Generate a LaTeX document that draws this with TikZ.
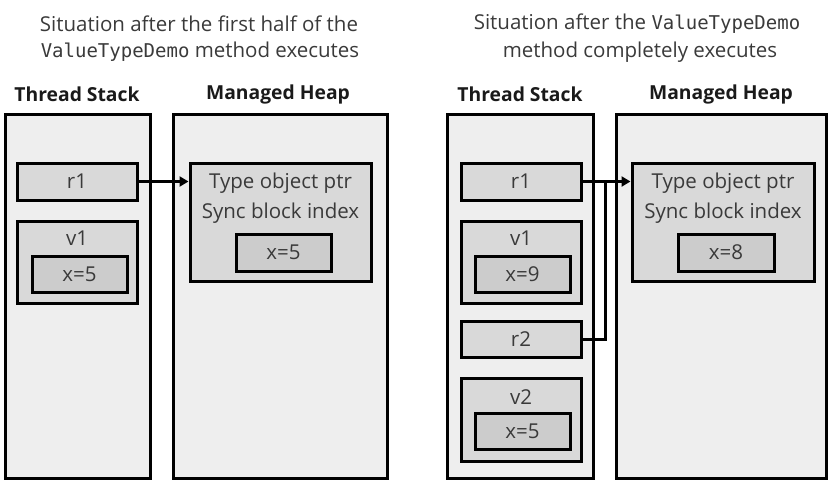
\documentclass[tikz,border=0pt]{standalone}
\usepackage{fontspec}
\setmainfont{Open Sans}
\setmonofont{DejaVu Sans Mono}
\usetikzlibrary{arrows.meta}
\definecolor{outerc}{HTML}{EEEEEE}
\definecolor{midc}{HTML}{D9D9D9}
\definecolor{innc}{HTML}{CCCCCC}
\definecolor{txtc}{HTML}{3A3A3A}
\definecolor{headc}{HTML}{1A1A1A}
\tikzset{
  base/.style={draw=black, line width=3pt, rectangle, inner sep=0pt},
  outerbox/.style={base, fill=outerc},
  midbox/.style={base, fill=midc, text=txtc, font=\fontsize{20.5}{24}\selectfont},
  innbox/.style={base, fill=innc, text=txtc, font=\fontsize{20.5}{24}\selectfont},
  lbl/.style={text=txtc, font=\fontsize{20.5}{24}\selectfont, inner sep=0pt},
  title/.style={text=txtc, font=\fontsize{20.5}{28}\selectfont, inner sep=0pt},
  heading/.style={text=headc, font=\fontsize{19.3}{22}\selectfont\bfseries, inner sep=0pt},
  conn/.style={line width=3pt},
  tip/.style={-{Triangle[length=9pt,width=10pt]}}
}
\newcommand\mononame{\texttt{\fontsize{19}{24}\selectfont ValueTypeDemo}}
\begin{document}
\begin{tikzpicture}[x=1pt,y=-1pt]
\useasboundingbox (0,0) rectangle (828,483);
% titles
\node[title] (t1a) at (199,24) {Situation after the first half of the};
\node[title] (t1b) at (200,52) {\mononame{} method executes};
\node[title] (t2a) at (637,24) {Situation after the \mononame};
\node[title] (t2b) at (640,52) {method completely executes};
% headings
\node[heading] (h1) at (77,94) {Thread Stack};
\node[heading] (h2) at (278,94) {Managed Heap};
\node[heading] (h3) at (520,94) {Thread Stack};
\node[heading] (h4) at (721,94) {Managed Heap};
% left panel
\node[outerbox, minimum width=145pt, minimum height=364pt] (stackL) at (77.5,296) {};
\node[outerbox, minimum width=214pt, minimum height=364pt] (heapL) at (280,296) {};
\node[midbox, minimum width=120pt, minimum height=37pt] (r1L) at (77,181.5) {r1};
\node[midbox, minimum width=120pt, minimum height=82pt] (v1L) at (77,262) {};
\node[lbl] (v1Lt) at (77,238) {v1};
\node[innbox, minimum width=95pt, minimum height=36pt] (x1L) at (79.5,274) {x=5};
\node[midbox, minimum width=181pt, minimum height=118pt] (objL) at (280.5,222) {};
\node[lbl] (objLa) at (280.5,183) {Type object ptr};
\node[lbl] (objLb) at (280.5,213) {Sync block index};
\node[innbox, minimum width=95pt, minimum height=37pt] (xhL) at (283.5,252.5) {x=5};
\draw[conn, tip] (r1L.east) -- (r1L.east -| objL.west);
% right panel
\node[outerbox, minimum width=146pt, minimum height=364pt] (stackR) at (520,296) {};
\node[outerbox, minimum width=210pt, minimum height=364pt] (heapR) at (721,296) {};
\node[midbox, minimum width=120pt, minimum height=37pt] (r1R) at (521,181.5) {r1};
\node[midbox, minimum width=120pt, minimum height=82pt] (v1R) at (521,262) {};
\node[lbl] (v1Rt) at (521,238) {v1};
\node[innbox, minimum width=95pt, minimum height=36pt] (x1R) at (522.5,274) {x=9};
\node[midbox, minimum width=120pt, minimum height=36pt] (r2R) at (521,339) {r2};
\node[midbox, minimum width=120pt, minimum height=83pt] (v2R) at (521,419.5) {};
\node[lbl] (v2Rt) at (521,397) {v2};
\node[innbox, minimum width=95pt, minimum height=36pt] (x2R) at (522.5,431) {x=5};
\node[midbox, minimum width=182pt, minimum height=118pt] (objR) at (723,222) {};
\node[lbl] (objRa) at (723,183) {Type object ptr};
\node[lbl] (objRb) at (723,213) {Sync block index};
\node[innbox, minimum width=96pt, minimum height=37pt] (xhR) at (726,252.5) {x=8};
\coordinate (j) at (605,181.5);
\draw[conn, tip] (r1R.east) -- (r1R.east -| objR.west);
\draw[conn, line join=miter] (r2R.east) -| (j);
\end{tikzpicture}
\end{document}
